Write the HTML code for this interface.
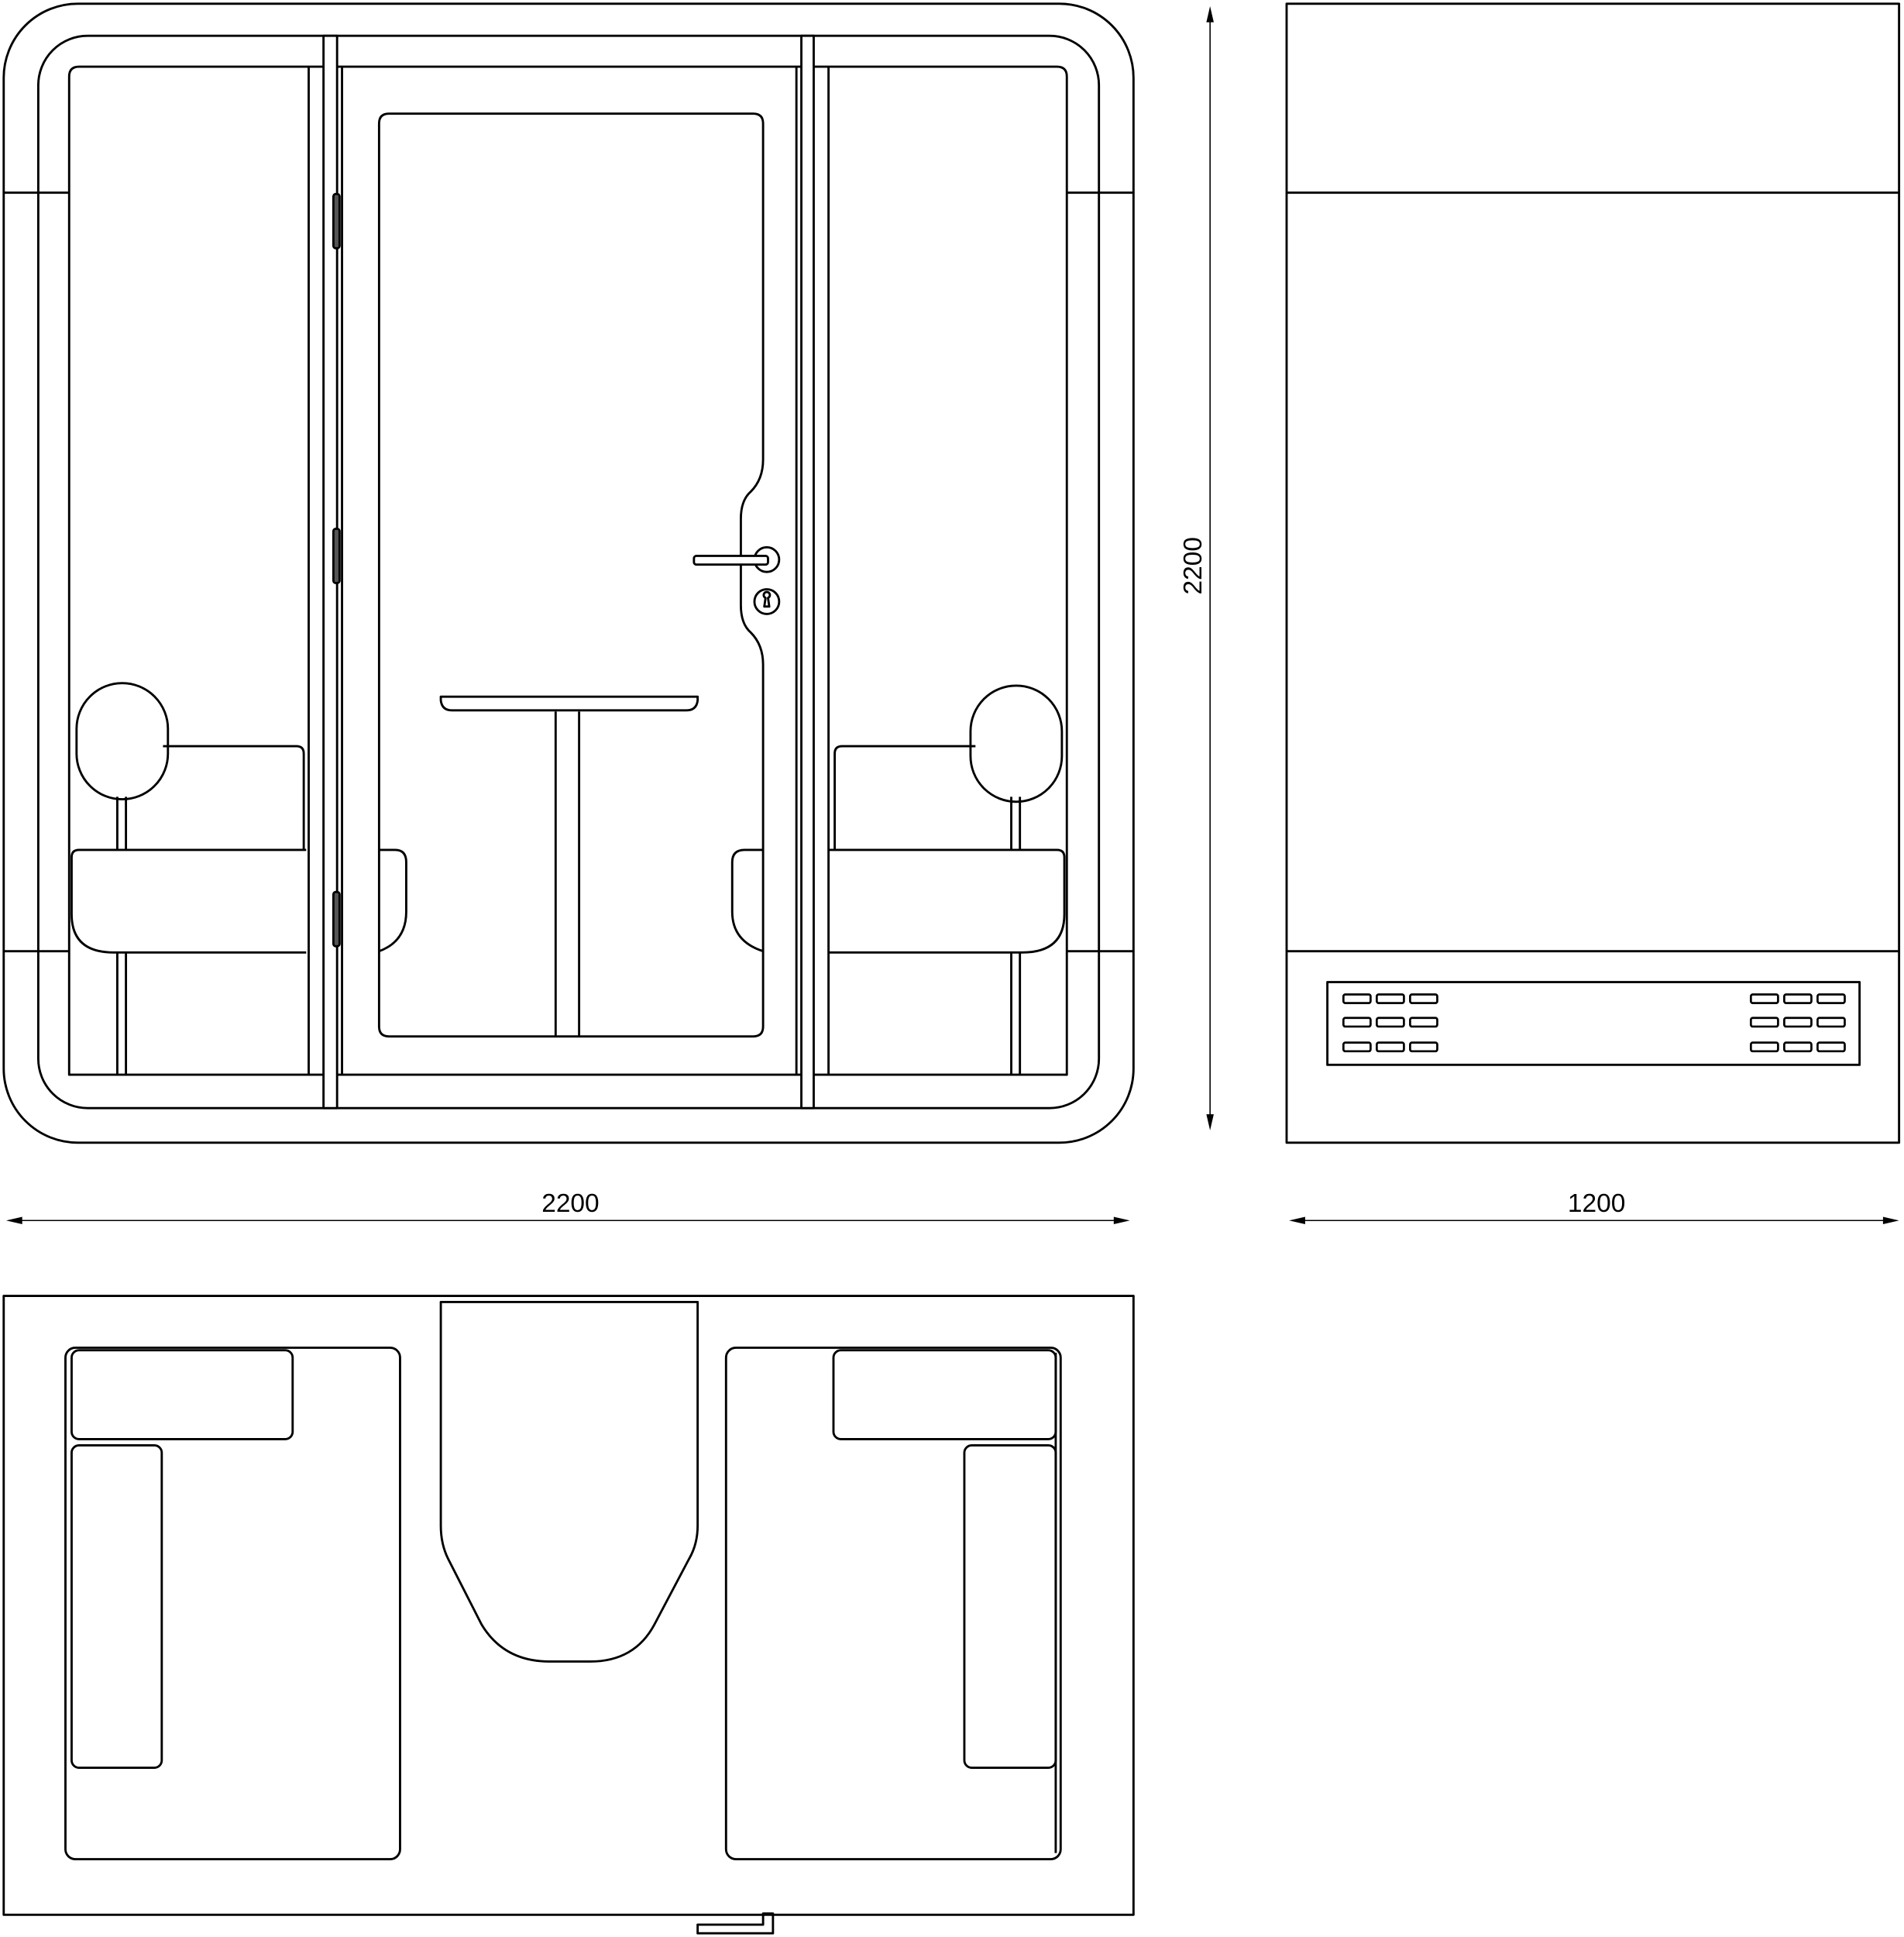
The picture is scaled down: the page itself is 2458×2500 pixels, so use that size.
<!DOCTYPE html>
<html><head><meta charset="utf-8"><style>html,body{margin:0;padding:0;background:#fff}svg{display:block}</style></head>
<body>
<svg width="2458" height="2500" viewBox="0 0 1542 1568" preserveAspectRatio="none" xmlns="http://www.w3.org/2000/svg">
<g fill="none" stroke="#000" stroke-width="1.8" stroke-linejoin="round">
<!-- FRONT VIEW -->
<rect x="3" y="3" width="915" height="922" rx="60"/>
<rect x="31" y="29" width="859" height="868" rx="40"/>
<line x1="3" y1="156" x2="56" y2="156"/><line x1="864" y1="156" x2="918" y2="156"/>
<line x1="3" y1="770" x2="56" y2="770"/><line x1="864" y1="770" x2="918" y2="770"/>
<path d="M56 870 V62 Q56 54 64 54 H856 Q864 54 864 62 V870 Z"/>
<line x1="250" y1="54" x2="250" y2="870"/>
<rect x="262" y="29" width="11" height="868" fill="#fff"/>
<line x1="277" y1="54" x2="277" y2="870"/>
<line x1="645" y1="54" x2="645" y2="870"/>
<rect x="649" y="29" width="10" height="868" fill="#fff"/>
<line x1="671" y1="54" x2="671" y2="870"/>
<!-- hinges -->
<rect x="270" y="157" width="5" height="44" rx="2" fill="#555"/>
<rect x="270" y="428" width="5" height="44" rx="2" fill="#555"/>
<rect x="270" y="722" width="5" height="44" rx="2" fill="#555"/>
<!-- door glass -->
<path d="M315 92 H610 Q618 92 618 100 V372 Q618 388 608 398 Q600 405 600 420 V490 Q600 505 608 512 Q618 522 618 538 V831 Q618 839 610 839 H315 Q307 839 307 831 V100 Q307 92 315 92 Z"/>
<circle cx="621" cy="453" r="10"/>
<rect x="562" y="450" width="60" height="7" rx="2" fill="#fff"/>
<circle cx="621" cy="487" r="10"/>
<path d="M619 491 L620 484 A2.5 2.5 0 1 1 622 484 L623 491 Z"/>
<!-- table -->
<path d="M357 564 H565 V567 Q564 575 556 575 H366 Q358 575 357 567 Z"/>
<line x1="450" y1="576" x2="450" y2="839"/><line x1="469" y1="576" x2="469" y2="839"/>
<!-- blobs -->
<path d="M307 688 H320 Q329 688 329 698 V738 Q329 762 307 770"/>
<path d="M618 688 H603 Q593 688 593 698 V738 Q593 762 618 770"/>
<!-- left chair -->
<line x1="95" y1="645" x2="95" y2="688"/><line x1="102" y1="645" x2="102" y2="688"/>
<line x1="95" y1="771" x2="95" y2="870"/><line x1="102" y1="771" x2="102" y2="870"/>
<path d="M132 604 H240 Q246 604 246 610 V688"/>
<rect x="62" y="553" width="74" height="94" rx="37"/>
<path d="M248 688 H64 Q58 688 58 694 V740 Q58 771 92 771 H248"/>
<!-- right chair -->
<line x1="819" y1="645" x2="819" y2="688"/><line x1="826" y1="645" x2="826" y2="688"/>
<line x1="819" y1="771" x2="819" y2="870"/><line x1="826" y1="771" x2="826" y2="870"/>
<path d="M790 604 H682 Q676 604 676 610 V688"/>
<rect x="786" y="555" width="74" height="94" rx="37"/>
<path d="M671 688 H856 Q862 688 862 694 V740 Q862 771 828 771 H671"/>
<!-- SIDE VIEW -->
<rect x="1042" y="3" width="496" height="922"/>
<line x1="1042" y1="156" x2="1538" y2="156"/>
<line x1="1042" y1="770" x2="1538" y2="770"/>
<rect x="1075" y="795" width="431" height="67"/>
<g stroke-width="1.7">
<rect x="1088" y="805" width="22" height="7" rx="1.5"/><rect x="1115" y="805" width="22" height="7" rx="1.5"/><rect x="1142" y="805" width="22" height="7" rx="1.5"/>
<rect x="1088" y="824" width="22" height="7" rx="1.5"/><rect x="1115" y="824" width="22" height="7" rx="1.5"/><rect x="1142" y="824" width="22" height="7" rx="1.5"/>
<rect x="1088" y="844" width="22" height="7" rx="1.5"/><rect x="1115" y="844" width="22" height="7" rx="1.5"/><rect x="1142" y="844" width="22" height="7" rx="1.5"/>
<rect x="1418" y="805" width="22" height="7" rx="1.5"/><rect x="1445" y="805" width="22" height="7" rx="1.5"/><rect x="1472" y="805" width="22" height="7" rx="1.5"/>
<rect x="1418" y="824" width="22" height="7" rx="1.5"/><rect x="1445" y="824" width="22" height="7" rx="1.5"/><rect x="1472" y="824" width="22" height="7" rx="1.5"/>
<rect x="1418" y="844" width="22" height="7" rx="1.5"/><rect x="1445" y="844" width="22" height="7" rx="1.5"/><rect x="1472" y="844" width="22" height="7" rx="1.5"/>
</g>
<!-- PLAN VIEW -->
<rect x="3" y="1049" width="915" height="501"/>
<path d="M357 1054 H565 V1235 Q565 1250 558 1262 L530 1315 Q514 1345 478 1345 H445 Q408 1345 390 1315 L363 1262 Q357 1250 357 1235 Z"/>
<rect x="53" y="1091" width="271" height="414" rx="8"/>
<rect x="58" y="1093" width="179" height="72" rx="6"/>
<rect x="58" y="1170" width="73" height="261" rx="6"/>
<rect x="588" y="1091" width="271" height="414" rx="8"/>
<line x1="855" y1="1095" x2="855" y2="1500"/>
<rect x="675" y="1093" width="180" height="72" rx="6"/>
<rect x="781" y="1170" width="74" height="261" rx="6"/>
<path d="M565 1558 H618 V1549 H626 V1565 H565 Z"/>
</g>
<!-- dimensions -->
<g stroke="#000" stroke-width="1">
<line x1="980" y1="10" x2="980" y2="910"/>
<line x1="10" y1="988" x2="910" y2="988"/>
<line x1="1050" y1="988" x2="1532" y2="988"/>
</g>
<g fill="#000">
<path d="M980 5 L977 18 L983 18 Z"/><path d="M980 915 L977 902 L983 902 Z"/>
<path d="M5 988 L18 985 L18 991 Z"/><path d="M915 988 L902 985 L902 991 Z"/>
<path d="M1044 988 L1057 985 L1057 991 Z"/><path d="M1538 988 L1525 985 L1525 991 Z"/>
</g>
<g font-family="Liberation Sans, sans-serif" font-size="21" fill="#000" text-anchor="middle">
<text x="462" y="981">2200</text>
<text x="1293" y="981">1200</text>
<text transform="translate(973 458) rotate(-90)">2200</text>
</g>
</svg>
</body></html>
